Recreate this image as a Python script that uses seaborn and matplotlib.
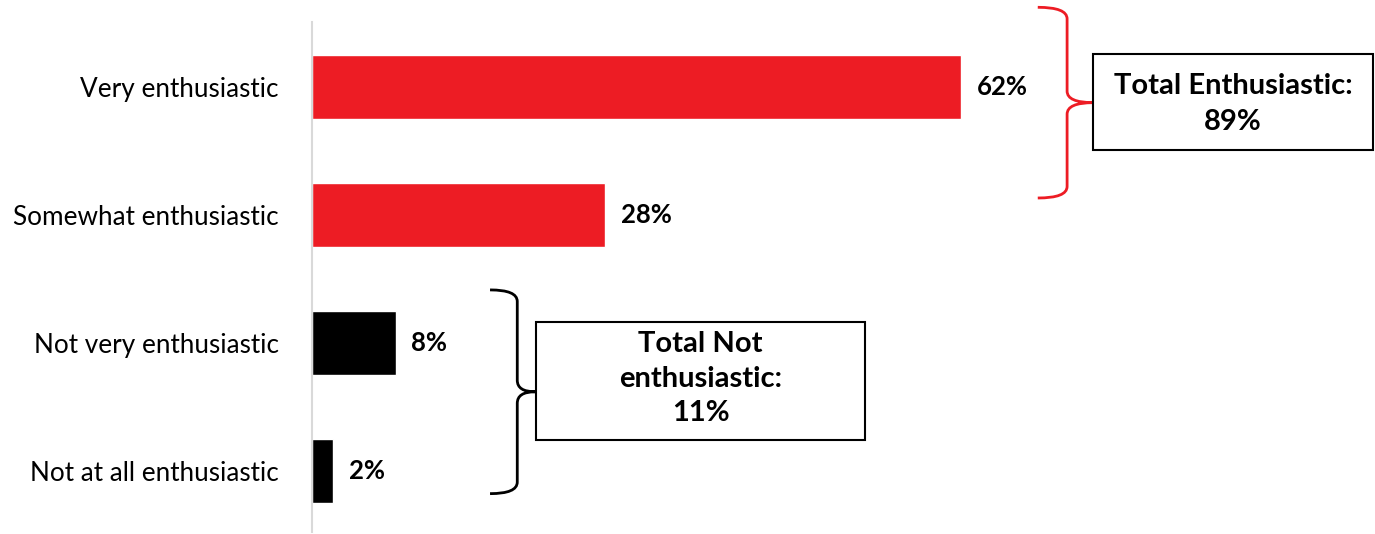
import matplotlib
matplotlib.use("Agg")
import matplotlib.pyplot as plt
import seaborn as sns
import pandas as pd
from matplotlib.path import Path
from matplotlib.patches import PathPatch, Rectangle

categories = ["Very enthusiastic", "Somewhat enthusiastic", "Not very enthusiastic", "Not at all enthusiastic"]
values = [62, 28, 8, 2]
value_labels = ["62%", "28%", "8%", "2%"]
colors = ["#ED1C24", "#ED1C24", "#000000", "#000000"]
box_texts = ["Total Enthusiastic:\n89%", "Total Not\nenthusiastic:\n11%"]

sns.set_theme(style="white")
plt.rcParams['font.family'] = ['Lato', 'DejaVu Sans']
plt.rcParams['text.color'] = 'black'

df = pd.DataFrame({"cat": categories, "val": values})

fig = plt.figure(figsize=(13.75, 5.34), dpi=100)
ax = fig.add_axes([312/1375, 1 - 532/534, (1375-312)/1375, (532-22)/534])
sns.barplot(data=df, x="val", y="cat", hue="cat", palette=colors, legend=False,
            width=0.5, ax=ax, saturation=1, orient="h")
ax.set_xlim(0, 101.5)
ax.set_ylim(3.48, -0.51)
ax.set_xlabel("")
ax.set_ylabel("")
ax.set_xticks([])
for s in ["top", "right", "bottom"]:
    ax.spines[s].set_visible(False)
ax.spines["left"].set_color("#D9D9D9")
ax.spines["left"].set_linewidth(1.5)
ax.tick_params(axis="y", length=0, pad=24, labelsize=18.8, labelcolor="#000000")

for i, (v, lab) in enumerate(zip(values, value_labels)):
    ax.text(v + 1.5, i, lab, va="center", ha="left", fontsize=18.5, fontweight="bold", color="black")


def brace(ax, x0, x1, xtip, ytop, ybot, color, ry=0.09):
    ymid = (ytop + ybot) / 2
    verts = [
        (x0, ytop), (x1, ytop), (x1, ytop + ry),
        (x1, ymid - ry),
        (x1, ymid), (xtip, ymid),
        (x1, ymid), (x1, ymid + ry),
        (x1, ybot - ry),
        (x1, ybot), (x0, ybot),
    ]
    codes = [Path.MOVETO, Path.CURVE3, Path.CURVE3, Path.LINETO,
             Path.CURVE3, Path.CURVE3, Path.CURVE3, Path.CURVE3,
             Path.LINETO, Path.CURVE3, Path.CURVE3]
    p = PathPatch(Path(verts, codes), fill=False, edgecolor=color, lw=2, clip_on=False)
    ax.add_patch(p)


brace(ax, 69.3, 72.1, 74.6, -0.625, 0.867, "#ED1C24")
brace(ax, 17.0, 19.6, 21.3, 1.586, 3.18, "#000000")

r1 = Rectangle((74.6, -0.258), 101.3 - 74.6, 0.492 + 0.258, fill=False, edgecolor="black", lw=1.5, clip_on=False)
ax.add_patch(r1)
ax.text((74.6 + 101.3) / 2, 0.13, box_texts[0], ha="center", va="center", fontsize=21,
        fontweight="bold", linespacing=1.45, color="black")
r2 = Rectangle((21.4, 1.836), 52.8 - 21.4, 2.758 - 1.836, fill=False, edgecolor="black", lw=1.5, clip_on=False)
ax.add_patch(r2)
ax.text((21.4 + 52.8) / 2, 2.28, box_texts[1], ha="center", va="center", fontsize=21,
        fontweight="bold", linespacing=1.4, color="black")

fig.savefig("out.png", dpi=100)
